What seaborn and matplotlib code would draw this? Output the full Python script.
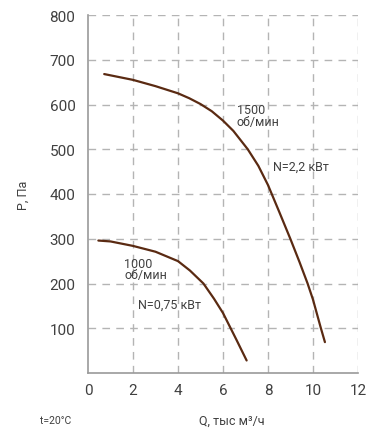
import matplotlib
matplotlib.use("Agg")
import matplotlib.pyplot as plt
import seaborn as sns
import pandas as pd

# Fan performance curves: flow Q (thousand m3/h) vs pressure P (Pa)
q_1500 = [0.72, 2.0, 3.0, 4.0, 4.5, 5.0, 5.5, 6.0, 6.46, 7.1, 7.57, 8.0, 8.5,
          9.0, 9.4, 9.76, 10.0, 10.34, 10.53]
p_1500 = [668, 655, 641, 625, 614, 601, 585, 564, 541, 500, 463, 420, 360,
          299, 248, 200, 164, 102, 69]

q_1000 = [0.46, 1.0, 2.0, 3.0, 4.0, 4.53, 5.13, 5.6, 6.0, 6.28, 6.6, 7.05]
p_1000 = [296, 294, 284, 271, 250, 229, 200, 166, 134, 106, 74, 28]

x_ticks = [0, 2, 4, 6, 8, 10, 12]
y_ticks = [0, 100, 200, 300, 400, 500, 600, 700, 800]
y_tick_labels = ["", "100", "200", "300", "400", "500", "600", "700", "800"]

curve_color = "#5a2a12"
text_color = "#404040"
axis_color = "#9a9a9a"
grid_color = "#b4b4b4"

sns.set_style("white")
plt.rcParams["font.family"] = ["Roboto", "DejaVu Sans"]

df = pd.concat([
    pd.DataFrame({"Q": q_1500, "P": p_1500, "speed": "1500"}),
    pd.DataFrame({"Q": q_1000, "P": p_1000, "speed": "1000"}),
])

fig = plt.figure(figsize=(3.7, 4.35), dpi=100)
ax = fig.add_axes([88 / 370, 61 / 435, 270 / 370, 358 / 435])

for speed in ["1500", "1000"]:
    sub = df[df["speed"] == speed]
    sns.lineplot(data=sub, x="Q", y="P", ax=ax, color=curve_color,
                 linewidth=1.6, sort=False, estimator=None, legend=False)

ax.set_xlim(0, 12)
ax.set_ylim(0, 800)
ax.set_xticks(x_ticks)
ax.set_yticks(y_ticks)
ax.set_yticklabels(y_tick_labels)

# dashed grid, skipping the axes themselves
for xv in x_ticks[1:]:
    ax.axvline(xv, color=grid_color, linewidth=1.0, dashes=(5.5, 4.5), zorder=0)
for yv in y_ticks[1:]:
    ax.axhline(yv, color=grid_color, linewidth=1.0, dashes=(5.5, 4.5), zorder=0)

for side in ["top", "right"]:
    ax.spines[side].set_visible(False)
for side in ["left", "bottom"]:
    ax.spines[side].set_color(axis_color)
    ax.spines[side].set_linewidth(1.2)

ax.tick_params(axis="y", length=7, width=1.0, color=axis_color,
               labelsize=11, labelcolor=text_color, pad=2)
ax.tick_params(axis="x", length=3, width=1.0, color=axis_color,
               labelsize=11, labelcolor=text_color, pad=4)

ax.set_xlabel("")
ax.set_ylabel("P, Па", fontsize=9, color=text_color, labelpad=14)

ax.text(6.62, 575, "1500\nоб/мин", fontsize=9, color=text_color,
        ha="left", va="center", linespacing=0.85)
ax.text(8.22, 463, "N=2,2 кВт", fontsize=9, color=text_color,
        ha="left", va="center")
ax.text(1.62, 232, "1000\nоб/мин", fontsize=9, color=text_color,
        ha="left", va="center", linespacing=0.85)
ax.text(2.22, 154, "N=0,75 кВт", fontsize=9, color=text_color,
        ha="left", va="center")

fig.text(56 / 370, 1 - 421 / 435, "t=20°C", fontsize=7.5, color=text_color,
         ha="center", va="center")
fig.text(232 / 370, 1 - 421 / 435, "Q, тыс м³/ч", fontsize=9,
         color=text_color, ha="center", va="center")

fig.savefig("out.png", dpi=100)
